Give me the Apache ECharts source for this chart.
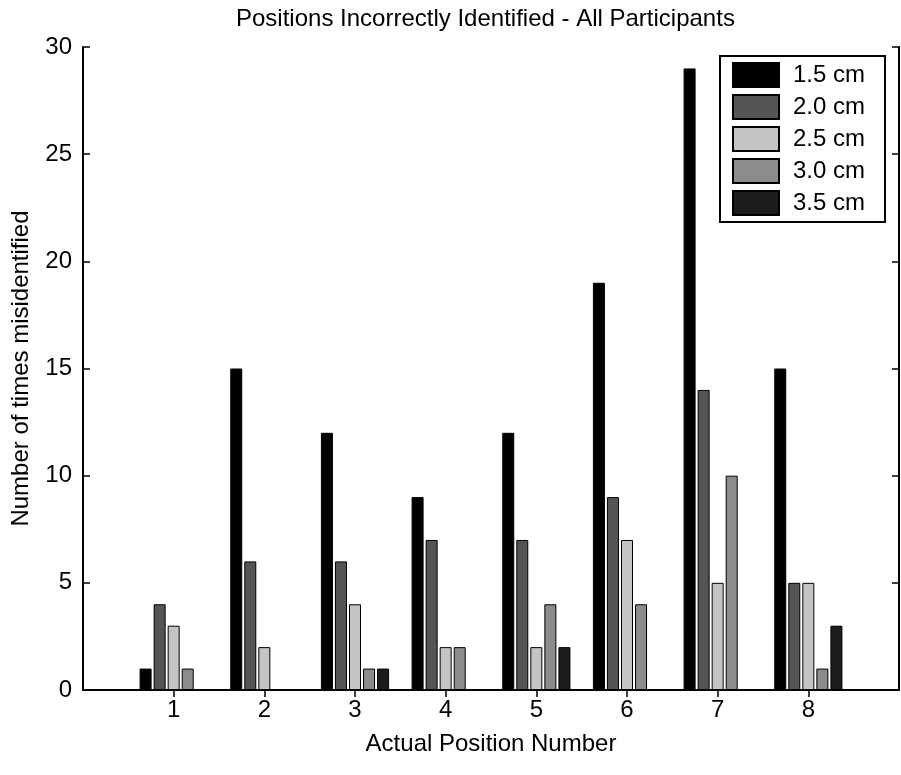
<!DOCTYPE html>
<html>
<head>
<meta charset="utf-8">
<script src="https://cdn.jsdelivr.net/npm/echarts@6/dist/echarts.min.js"></script>
<style>html,body{margin:0;padding:0;background:#fff;}#c{width:901px;height:775px;}</style>
</head>
<body>
<div id="c"></div>
<script>
const categories = ['0', '1', '2', '3', '4', '5', '6', '7', '8', '9'];
const seriesNames = ['1.5 cm', '2.0 cm', '2.5 cm', '3.0 cm', '3.5 cm'];
const s15 = ['-', 1, 15, 12, 9, 12, 19, 29, 15, '-'];
const s20 = ['-', 4, 6, 6, 7, 7, 9, 14, 5, '-'];
const s25 = ['-', 3, 2, 4, 2, 2, 7, 5, 5, '-'];
const s30 = ['-', 1, 0, 1, 2, 4, 4, 10, 1, '-'];
const s35 = ['-', 0, 0, 1, 0, 2, 0, 0, 3, '-'];
const yTicks = [0, 5, 10, 15, 20, 25, 30];
const colors = ['#000000', '#555555', '#c4c4c4', '#8c8c8c', '#1c1c1c'];
const allData = [s15, s20, s25, s30, s35];

const FONT = 'Liberation Sans, Arial, sans-serif';
const chart = echarts.init(document.getElementById('c'));
const tickShow = (i) => i >= 1 && i <= 8;

chart.setOption({
  backgroundColor: '#ffffff',
  animation: false,
  title: {
    text: 'Positions Incorrectly Identified - All Participants',
    left: 231, top: 2,
    textStyle: { fontFamily: FONT, fontSize: 24, fontWeight: 'normal', color: '#000' }
  },
  legend: {
    orient: 'vertical',
    left: 720, top: 56,
    itemWidth: 46, itemHeight: 24, itemGap: 6,
    padding: [6, 20, 6, 12],
    borderColor: '#000', borderWidth: 2,
    backgroundColor: '#ffffff',
    icon: 'rect',
    data: seriesNames,
    textStyle: { fontFamily: FONT, fontSize: 24, color: '#000', padding: [0, 0, 0, 9] }
  },
  grid: { left: 83, right: 2, top: 47, bottom: 85, containLabel: false },
  xAxis: [{
    type: 'category', data: categories, boundaryGap: false,
    axisLine: { lineStyle: { color: '#000', width: 2 } },
    axisTick: { inside: true, length: 7, interval: tickShow, lineStyle: { color: '#000', width: 1.5 } },
    axisLabel: { interval: tickShow, margin: 8, fontFamily: FONT, fontSize: 24, color: '#000' },
    name: 'Actual Position Number', nameLocation: 'middle', nameGap: 42,
    nameTextStyle: { fontFamily: FONT, fontSize: 24, color: '#000' },
    splitLine: { show: false }
  }, {
    type: 'category', data: categories, boundaryGap: false, position: 'top',
    axisLine: { lineStyle: { color: '#000', width: 2 } },
    axisTick: { inside: true, length: 7, interval: tickShow, lineStyle: { color: '#000', width: 1.5 } },
    axisLabel: { show: false },
    splitLine: { show: false }
  }],
  yAxis: [{
    type: 'value', min: 0, max: 30, interval: 5,
    axisLine: { show: true, lineStyle: { color: '#000', width: 2 } },
    axisTick: { show: true, inside: true, length: 7, lineStyle: { color: '#000', width: 1.5 } },
    axisLabel: { margin: 11, fontFamily: FONT, fontSize: 24, color: '#000',
      formatter: (v) => yTicks.includes(v) ? String(v) : '' },
    splitLine: { show: false },
    name: 'Number of times misidentified', nameLocation: 'middle', nameGap: 50,
    nameTextStyle: { fontFamily: FONT, fontSize: 24, color: '#000' }
  }, {
    type: 'value', min: 0, max: 30, interval: 5, position: 'right',
    axisLine: { show: true, lineStyle: { color: '#000', width: 2 } },
    axisTick: { show: true, inside: true, length: 7, lineStyle: { color: '#000', width: 1.5 } },
    axisLabel: { show: false },
    splitLine: { show: false }
  }],
  series: seriesNames.map((name, i) => ({
    name: name,
    type: 'bar',
    xAxisIndex: 0, yAxisIndex: 0,
    data: allData[i],
    barWidth: 12,
    barGap: '17%',
    itemStyle: { color: colors[i], borderColor: '#000', borderWidth: 1 }
  }))
});
</script>
</body>
</html>
